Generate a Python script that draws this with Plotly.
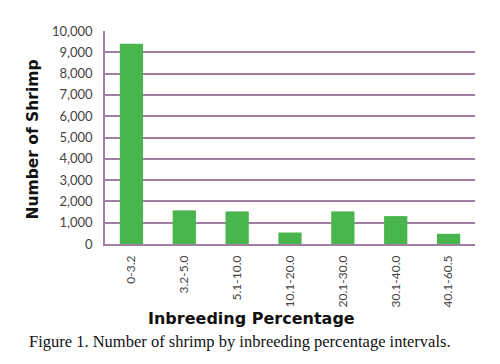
import plotly.graph_objects as go

categories = ["0-3.2", "3.2-5.0", "5.1-10.0", "10.1-20.0", "20.1-30.0", "30.1-40.0", "40.1-60.5"]
counts = [9400, 1580, 1530, 540, 1530, 1310, 480]
y_ticks = list(range(0, 10001, 1000))
y_tick_labels = [f"{v:,}" for v in y_ticks]

fig = go.Figure(go.Bar(x=categories, y=counts, marker=dict(color="#49b54d", line=dict(width=0)), width=0.44))

fig.update_layout(
    width=500, height=364,
    margin=dict(l=105, r=25, t=31, b=120),
    paper_bgcolor="white", plot_bgcolor="white",
    showlegend=False,
    font=dict(family="Lato, sans-serif", color="#333333"),
)
fig.update_yaxes(
    range=[0, 10000], tickvals=y_ticks, ticktext=y_tick_labels,
    showgrid=True, gridcolor="#a07fa0", gridwidth=1.5,
    showline=True, linecolor="#a07fa0", linewidth=1.5,
    tickfont=dict(size=13, color="#444444"), ticks="", ticklabelstandoff=8,
    zeroline=False,
)
fig.update_xaxes(
    tickangle=-90, tickfont=dict(size=12, color="#444444"), ticklabelstandoff=5,
    showline=True, linecolor="#a07fa0", linewidth=1.5,
)
fig.add_annotation(
    text="<b>Number of Shrimp</b>", textangle=-90,
    xref="paper", yref="paper", x=-0.195, y=0.49, xanchor="center", yanchor="middle",
    showarrow=False, font=dict(family="DejaVu Sans, sans-serif", size=15.5, color="#111111"),
)
fig.add_annotation(
    text="<b>Inbreeding Percentage</b>",
    xref="paper", yref="paper", x=0.397, y=-0.295, xanchor="center", yanchor="top",
    showarrow=False, font=dict(family="DejaVu Sans, sans-serif", size=16, color="#111111"),
)
fig.add_annotation(
    text="Figure 1. Number of shrimp by inbreeding percentage intervals.",
    xref="paper", yref="paper", x=-0.21, y=-0.405, xanchor="left", yanchor="top",
    showarrow=False, font=dict(family="Liberation Serif, serif", size=16.5, color="#111111"),
)
fig.write_html("out.html", config={"displayModeBar": False}, post_script="document.body.style.margin='0';")
